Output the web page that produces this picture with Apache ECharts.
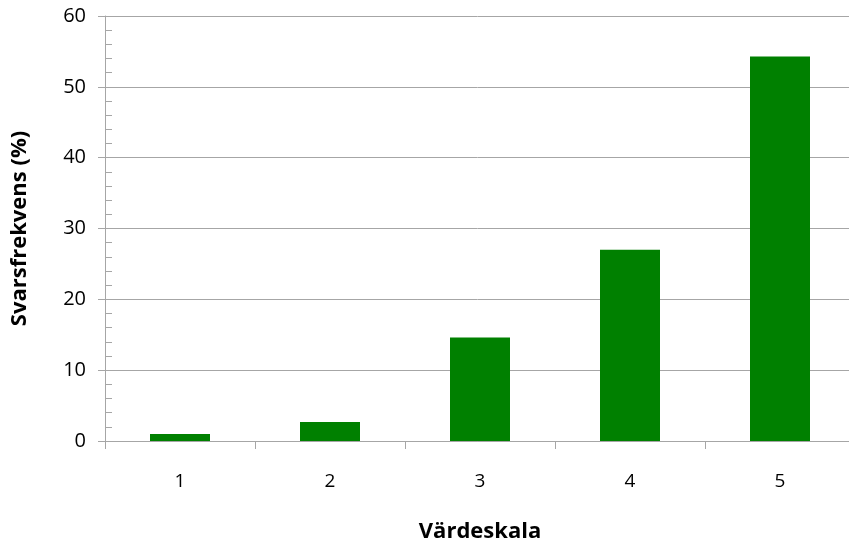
<!DOCTYPE html>
<html>
<head>
<meta charset="utf-8">
<script src="https://cdn.jsdelivr.net/npm/echarts@6/dist/echarts.min.js"></script>
<style>
html,body{margin:0;padding:0;background:#fff;}
#chart{width:849px;height:548px;}
</style>
</head>
<body>
<div id="chart"></div>
<script>
// Värdeskala / Svarsfrekvens (%)
var categories = ['1','2','3','4','5'];
var values = [1.0, 2.7, 14.6, 27.0, 54.3];

var FONT = 'Open Sans';
var GRID_COLOR = '#a6a6a6';

var myChart = echarts.init(document.getElementById('chart'));
myChart.setOption({
	animation: false,
	grid: {
		left: 105,
		top: 16,
		width: 750,
		height: 425,
		outerBoundsMode: 'none'
	},
	xAxis: {
		type: 'category',
		data: categories,
		name: 'Värdeskala',
		nameLocation: 'middle',
		nameGap: 80,
		nameTextStyle: {
			color: '#000',
			fontFamily: FONT,
			fontSize: 22,
			fontWeight: 'bold'
		},
		axisLine: {lineStyle: {color: GRID_COLOR, width: 1}},
		axisTick: {show: true, length: 8, lineStyle: {color: GRID_COLOR}},
		axisLabel: {
			color: '#000',
			fontFamily: FONT,
			fontSize: 19,
			margin: 31
		}
	},
	yAxis: [
		{
			type: 'value',
			min: 0,
			max: 60,
			interval: 10,
			name: 'Svarsfrekvens (%)',
			nameLocation: 'middle',
			nameGap: 74,
			nameTextStyle: {
				color: '#000',
				fontFamily: FONT,
				fontSize: 22,
				fontWeight: 'bold'
			},
			axisLine: {show: true, lineStyle: {color: GRID_COLOR}},
			axisTick: {show: true, length: 7, lineStyle: {color: GRID_COLOR}},
			axisLabel: {
				color: '#000',
				fontFamily: FONT,
				fontSize: 20,
				margin: 19
			},
			splitLine: {show: true, lineStyle: {color: GRID_COLOR, width: 1}}
		},
		{
			// kleine streepjes binnenin
			type: 'value',
			position: 'left',
			min: 0,
			max: 60,
			interval: 2,
			axisLine: {show: false},
			axisTick: {show: true, inside: true, length: 7, lineStyle: {color: GRID_COLOR}},
			axisLabel: {show: false},
			splitLine: {show: false}
		}
	],
	series: [
		{
			type: 'bar',
			data: values,
			barWidth: '40%',
			itemStyle: {color: '#008000'}
		}
	]
});
</script>
</body>
</html>
